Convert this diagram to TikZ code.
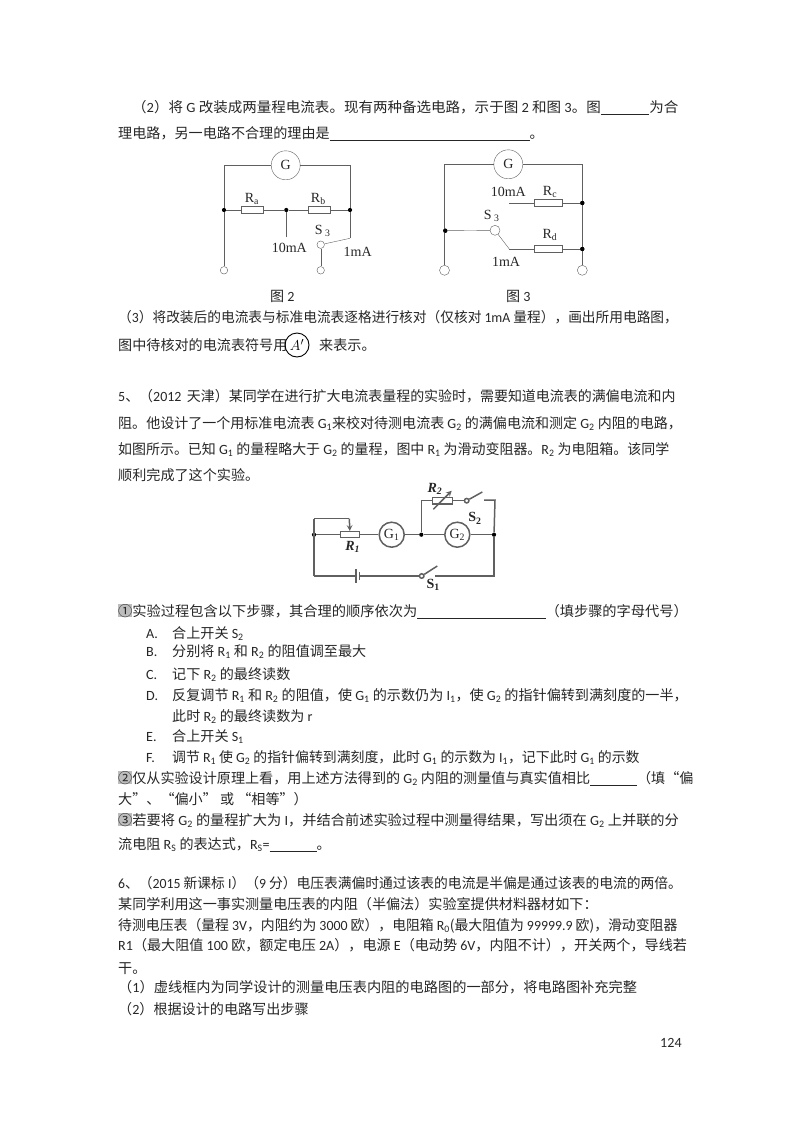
\documentclass[tikz,border=0pt]{standalone}
\usepackage{fontspec}
\setmainfont{Noto Sans CJK SC}
\newfontfamily\latf{Carlito}
\newfontfamily\serf{Liberation Serif}
\newcommand{\la}[1]{{\latf #1}}
\newcommand{\dn}[1]{\textsubscript{\latf #1}}
\newcommand{\blank}[1]{\rule[-2.5pt]{#1pt}{0.9pt}}
\newcommand{\hi}[1]{{\fboxsep=0pt\colorbox{mark}{#1}}}
\definecolor{ink}{HTML}{262626}
\definecolor{wire}{HTML}{606060}
\definecolor{mark}{HTML}{BDBDBD}
\tikzset{
  txt/.style={anchor=base west,inner sep=0pt,text=ink,font=\fontsize{14.1}{16}\selectfont},
  lab/.style={inner sep=0pt,text=ink,font=\serf\fontsize{14}{16}\selectfont},
  res/.style={draw=wire,fill=white,rectangle,minimum width=22.5pt,minimum height=7pt,inner sep=0pt},
  meter/.style={draw=wire,fill=white,circle,minimum size=29pt,inner sep=0pt,text=ink,font=\serf\fontsize{14}{16}\selectfont},
  dot/.style={fill=black,circle,minimum size=4.2pt,inner sep=0pt},
  term/.style={draw=wire,fill=white,circle,minimum size=7.5pt,inner sep=0pt},
  heavy/.style={draw=wire,line width=1.5pt},
}
\begin{document}
\begin{tikzpicture}[x=1pt,y=-1pt]
  \useasboundingbox (0,0) rectangle (800,1132);
  % text above the two circuits
  \node[txt,xscale=1.03] (l1) at (132,112) {（\la{2}）将 \la{G} 改装成两量程电流表。现有两种备选电路，示于图 \la{2} 和图 \la{3}。图\blank{47}为合};
  \node[txt] (l2) at (118,138) {理电路，另一电路不合理的理由是\blank{200}。};
  % figure 2
  \node[meter] (g) at (285.7,165.3) {G};
  \node[dot] (a) at (224,210) {};
  \node[dot] (b) at (286.3,210) {};
  \node[dot] (c) at (350,210) {};
  \node[res] (ra) at (252,210) {};
  \node[res] (rb) at (319,210) {};
  \node[term] (p) at (224,270.3) {};
  \node[term] (s) at (320.7,244.7) {};
  \node[term] (q) at (320.7,270.3) {};
  \coordinate (m) at (286.3,237.3);
  \coordinate (n) at (350,238.3);
  \begin{scope}[draw=wire]
    \draw (g) -| (a);
    \draw (g) -| (c);
    \draw (a) -- (ra);
    \draw (ra) -- (b);
    \draw (b) -- (rb);
    \draw (rb) -- (c);
    \draw (a) -- (p);
    \draw (b) -- (m);
    \draw (c) -- (n);
    \draw (n) -- (s);
    \draw (s) -- (q);
  \end{scope}
  \node[lab] (ra1) at (252,198.7) {R\textsubscript{a}};
  \node[lab] (rb1) at (318.3,198.7) {R\textsubscript{b}};
  \node[lab] (s1) at (322.7,230.7) {S\,\textsubscript{3}};
  \node[lab] (i1) at (289.3,247.7) {10mA};
  \node[lab] (i2) at (357.7,252) {1mA};
  \node[txt,anchor=base] (c2) at (282.3,301) {图 \la{2}};
  % figure 3
  \node[meter] (h) at (508.3,164.3) {G};
  \node[dot] (d) at (445.3,230.7) {};
  \node[dot] (e) at (582.3,203) {};
  \node[dot] (f) at (582.3,249) {};
  \node[res,minimum width=28pt] (rc) at (548.3,203) {};
  \node[res,minimum width=28pt] (rd) at (548.3,249) {};
  \node[term,minimum size=10pt] (w) at (495,230.3) {};
  \node[term,minimum size=10pt] (u) at (444.5,270.3) {};
  \node[term,minimum size=10pt] (v) at (582.3,270.3) {};
  \coordinate (x) at (509.3,203);
  \coordinate (y) at (509.3,249);
  \begin{scope}[draw=wire]
    \draw (h) -| (u);
    \draw (h) -| (v);
    \draw (x) -- (rc);
    \draw (rc) -- (e);
    \draw (d) -- (w);
    \draw (w) -- (y);
    \draw (y) -- (rd);
    \draw (rd) -- (f);
  \end{scope}
  \node[dot] (d1) at (d) {};
  \node[dot] (e1) at (e) {};
  \node[dot] (f1) at (f) {};
  \node[lab] (i3) at (508.3,191.7) {10mA};
  \node[lab] (rc1) at (550,191.7) {R\textsubscript{c}};
  \node[lab] (s3) at (491.7,215.7) {S\,\textsubscript{3}};
  \node[lab] (rd1) at (550,235) {R\textsubscript{d}};
  \node[lab] (i4) at (506,262.3) {1mA};
  \node[txt,anchor=base] (c3) at (518.3,301) {图 \la{3}};
  % text between the circuits
  \node[txt,xscale=0.972] (l3) at (118,322) {（\la{3}）将改装后的电流表与标准电流表逐格进行核对（仅核对 \la{1mA} 量程），画出所用电路图，};
  \node[txt] (l4) at (118,350) {图中待核对的电流表符号用};
  \node[draw=black,line width=0.9pt,circle,minimum size=24pt,inner sep=0pt,font=\fontsize{15}{16}\selectfont] (aa) at (297,345) {$A'$};
  \node[txt] (l4b) at (319,350) {来表示。};
  \node[txt,xscale=0.99] (l5) at (118,401) {\la{5}、（\la{2012}\, 天津）某同学在进行扩大电流表量程的实验时，需要知道电流表的满偏电流和内};
  \node[txt,xscale=0.995] (l6) at (118,428) {阻。他设计了一个用标准电流表 \la{G\dn{1}}来校对待测电流表 \la{G\dn{2}} 的满偏电流和测定 \la{G\dn{2}} 内阻的电路，};
  \node[txt,xscale=0.99] (l7) at (118,454) {如图所示。已知 \la{G\dn{1}} 的量程略大于 \la{G\dn{2}} 的量程，图中 \la{R\dn{1}} 为滑动变阻器。\la{R\dn{2}} 为电阻箱。该同学};
  \node[txt] (l8) at (118,480) {顺利完成了这个实验。};
  % figure with two meters
  \node[dot] (j) at (314,534.7) {};
  \node[res,minimum width=18.6pt,minimum height=6pt,heavy] (r1) at (350,534.7) {};
  \node[meter,minimum size=25pt,heavy] (g1) at (391.7,534.7) {G\textsubscript{1}};
  \node[dot] (o) at (421.3,534.7) {};
  \node[meter,minimum size=25pt,heavy] (g2) at (457.3,534.7) {G\textsubscript{2}};
  \node[dot] (z) at (494,534.7) {};
  \node[res,minimum width=20pt,minimum height=6.6pt,heavy] (r2) at (442.3,500.7) {};
  \node[term,minimum size=4.5pt,heavy] (k2) at (466.7,500.7) {};
  \node[term,minimum size=4.5pt,heavy] (k1) at (421.7,576) {};
  \coordinate (t1) at (314,518.7);
  \coordinate (t2) at (349.3,518.7);
  \coordinate (t3) at (421.3,500.7);
  \coordinate (b1) at (482.3,492);
  \coordinate (b2) at (484,500);
  \coordinate (b3) at (495,500);
  \coordinate (b4) at (437.3,566);
  \coordinate (b5) at (435,576);
  \coordinate (b6) at (494,576);
  \coordinate (b7) at (314,576);
  \coordinate (a1) at (433.3,509.3);
  \coordinate (a2) at (451.7,490.7);
  \coordinate (c1) at (356,576);
  \coordinate (c4) at (359.5,576);
  \coordinate (c5) at (356,569);
  \coordinate (c6) at (356,583);
  \coordinate (c7) at (359.5,572);
  \coordinate (c8) at (359.5,580);
  \begin{scope}[heavy]
    \draw (j) -- (r1);
    \draw (r1) -- (g1);
    \draw (g1) -- (o);
    \draw (o) -- (g2);
    \draw (g2) -- (z);
    \draw (o) -- (t3) -- (r2);
    \draw (r2) -- (k2);
    \draw (k2) -- (b1);
    \draw (b2) -- (b3) -- (z);
    \draw (t1) -- (t2);
    \draw[-stealth] (t2) -- (r1);
    \draw (t1) -- (b7);
    \draw (b7) -- (c1);
    \draw (c4) -- (k1);
    \draw (k1) -- (b4);
    \draw (b5) -- (b6) -- (z);
    \draw[-stealth] (a1) -- (a2);
    \draw (c5) -- (c6);
    \draw (c7) -- (c8);
  \end{scope}
  \node[lab,font=\serf\bfseries\itshape\fontsize{14}{16}\selectfont] (n2) at (435,489) {R\textsubscript{2}};
  \node[lab,font=\serf\bfseries\fontsize{14}{16}\selectfont] (n3) at (475,518.3) {S\textsubscript{2}};
  \node[lab,font=\serf\bfseries\itshape\fontsize{14}{16}\selectfont] (n1) at (352.7,547.3) {R\textsubscript{1}};
  \node[lab,font=\serf\bfseries\fontsize{14}{16}\selectfont] (n4) at (433.3,585) {S\textsubscript{1}};
  % steps
  \node[txt,xscale=1.01] (l9) at (118,616) {\hi{①}实验过程包含以下步骤，其合理的顺序依次为\blank{127}（填步骤的字母代号）};
  \node[txt] (sa) at (146,638) {\la{A.}};
  \node[txt] (sa1) at (172,638) {合上开关 \la{S\dn{2}}};
  \node[txt] (sb) at (146,656) {\la{B.}};
  \node[txt] (sb1) at (172,656) {分别将 \la{R\dn{1}} 和 \la{R\dn{2}} 的阻值调至最大};
  \node[txt] (sc) at (146,679) {\la{C.}};
  \node[txt] (sc1) at (172,679) {记下 \la{R\dn{2}} 的最终读数};
  \node[txt] (sd) at (146,700) {\la{D.}};
  \node[txt] (sd1) at (172,700) {反复调节 \la{R\dn{1}} 和 \la{R\dn{2}} 的阻值，使 \la{G\dn{1}} 的示数仍为 \la{I\dn{1}}，使 \la{G\dn{2}} 的指针偏转到满刻度的一半，};
  \node[txt] (sd2) at (172,721) {此时 \la{R\dn{2}} 的最终读数为 \la{r}};
  \node[txt] (se) at (146,741) {\la{E.}};
  \node[txt] (se1) at (172,741) {合上开关 \la{S\dn{1}}};
  \node[txt] (sf) at (146,762) {\la{F.}};
  \node[txt,xscale=0.985] (sf1) at (172,762) {调节 \la{R\dn{1}} 使 \la{G\dn{2}} 的指针偏转到满刻度，此时 \la{G\dn{1}} 的示数为 \la{I\dn{1}}，记下此时 \la{G\dn{1}} 的示数};
  \node[txt] (l10) at (118,783) {\hi{②}仅从实验设计原理上看，用上述方法得到的 \la{G\dn{2}} 内阻的测量值与真实值相比\blank{47}（填“偏};
  \node[txt] (l11) at (118,804) {大”、“偏小” 或 “相等”）};
  \node[txt,xscale=1.009] (l12) at (118,825) {\hi{③}若要将 \la{G\dn{2}} 的量程扩大为 \la{I}，并结合前述实验过程中测量得结果，写出须在 \la{G\dn{2}} 上并联的分};
  \node[txt] (l13) at (118,849) {流电阻 \la{R\dn{S}} 的表达式，\la{R\dn{S}=}\blank{47}。};
  % last question
  \node[txt,xscale=0.976] (l14) at (118,888) {\la{6}、（\la{2015} 新课标 \la{I}）（\la{9} 分）电压表满偏时通过该表的电流是半偏是通过该表的电流的两倍。};
  \node[txt] (l15) at (118,909) {某同学利用这一事实测量电压表的内阻（半偏法）实验室提供材料器材如下：};
  \node[txt,xscale=0.983] (l16) at (118,930) {待测电压表（量程 \la{3V}，内阻约为 \la{3000} 欧），电阻箱 \la{R\dn{0}}(最大阻值为 \la{99999.9} 欧)，滑动变阻器};
  \node[txt] (l17) at (118,950) {\la{R1}（最大阻值 \la{100} 欧，额定电压 \la{2A}），电源 \la{E}（电动势 \la{6V}，内阻不计），开关两个，导线若};
  \node[txt] (l18) at (118,973) {干。};
  \node[txt,xscale=1.008] (l19) at (118,992) {（\la{1}）虚线框内为同学设计的测量电压表内阻的电路图的一部分，将电路图补充完整};
  \node[txt] (l20) at (118,1014) {（\la{2}）根据设计的电路写出步骤};
  \node[txt] (pg) at (660,1047) {\la{124}};
\end{tikzpicture}
\end{document}
